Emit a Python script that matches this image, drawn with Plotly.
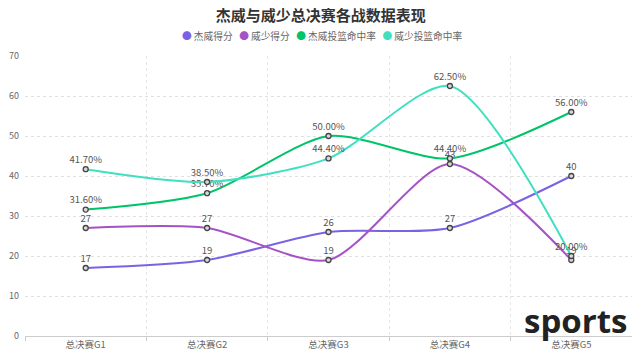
import plotly.graph_objects as go

categories = ["总决赛G1", "总决赛G2", "总决赛G3", "总决赛G4", "总决赛G5"]
jw_points = [17, 19, 26, 27, 40]
ws_points = [27, 27, 19, 43, 19]
jw_fg = [31.6, 35.7, 50.0, 44.4, 56.0]
ws_fg = [41.7, 38.5, 44.4, 62.5, 20.0]

series_names = ["杰威得分", "威少得分", "杰威投篮命中率", "威少投篮命中率"]
series_values = [jw_points, ws_points, jw_fg, ws_fg]
series_colors = ["#7b62e3", "#a552c6", "#00c469", "#3fe0c0"]
series_fmt = ["%{y}", "%{y}", "%{y:.2f}%", "%{y:.2f}%"]

FONT = "Noto Sans CJK SC, Microsoft YaHei, sans-serif"

fig = go.Figure()
for name, vals, col, fmt in zip(series_names, series_values, series_colors, series_fmt):
    fig.add_trace(go.Scatter(
        x=categories, y=vals, mode="lines+markers+text", name=name,
        line=dict(color=col, width=2, shape="spline", smoothing=0.75),
        marker=dict(size=5, color="#d8d8d8", line=dict(color="#444", width=1.3)),
        texttemplate=fmt, textposition="top center",
        textfont=dict(size=9.5, color="#555", family=FONT),
        showlegend=False, cliponaxis=False,
    ))

legend_text = "&nbsp;&nbsp;&nbsp;".join(
    f"<span style='color:{c}'>●</span> {n}" for n, c in zip(series_names, series_colors)
)

# page body has an 8px default margin, so the figure is 8px smaller than the window
fig.update_layout(
    width=632, height=347,
    margin=dict(l=17, r=8, t=48, b=19, autoexpand=False),
    paper_bgcolor="white", plot_bgcolor="white",
    font=dict(family=FONT, size=10, color="#666"),
    title=dict(text="<b>杰威与威少总决赛各战数据表现</b>", x=0.495, xanchor="center",
               y=0.978, yanchor="middle", font=dict(size=15, color="#333", family=FONT)),
    showlegend=False,
    annotations=[
        dict(text=legend_text, xref="paper", yref="paper", x=0.49, y=1.071,
             xanchor="center", yanchor="middle", showarrow=False,
             font=dict(size=9.7, color="#666", family=FONT)),
        dict(text="<b>sports</b>", xref="paper", yref="paper", x=1, y=0.055,
             xanchor="right", yanchor="middle", xshift=-3, showarrow=False,
             font=dict(size=33, color="#222", family="Open Sans, sans-serif")),
    ],
)
fig.update_xaxes(type="category", tickson="boundaries", showgrid=True, gridcolor="#e6e6e6",
                 griddash="dot", gridwidth=1, showline=True, linecolor="#ccc",
                 ticks="outside", ticklen=4, tickcolor="#ccc", zeroline=False, automargin=False,
                 tickfont=dict(size=9.5, color="#666"), range=[-0.5, 4.5])
fig.update_yaxes(range=[0, 70], dtick=10, showgrid=True, gridcolor="#e0e0e0", griddash="dot",
                 zeroline=False, showline=False, ticks="", ticklabelstandoff=5, automargin=False,
                 tickfont=dict(size=9, color="#666"))

fig.write_html("out.html")
